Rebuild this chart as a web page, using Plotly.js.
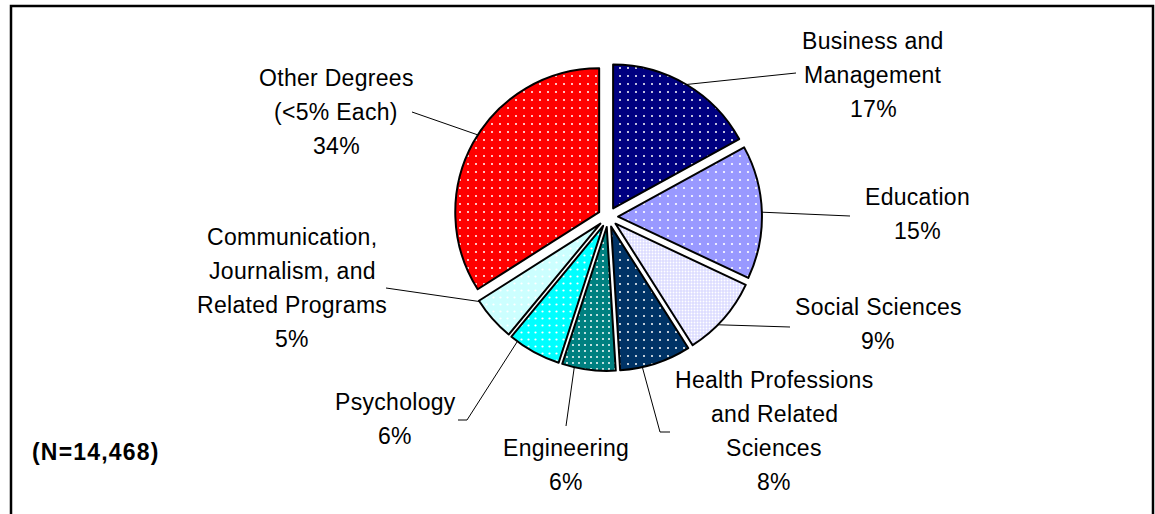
<!DOCTYPE html>
<html><head><meta charset="utf-8">
<script src="https://cdn.plot.ly/plotly-3.0.1.min.js"></script>
<style>
html,body{margin:0;padding:0;background:#fff;}
#chart{width:1155px;height:514px;}
.annotation-text{letter-spacing:0.3px;}
</style></head><body><div id="chart"></div>
<script>
// ---------------- data ----------------
const categories = ["Business and Management","Education","Social Sciences","Health Professions and Related Sciences","Engineering","Psychology","Communication, Journalism, and Related Programs","Other Degrees (<5% Each)"];
const labelLines = [["Business and","Management"],["Education"],["Social Sciences"],["Health Professions","and Related","Sciences"],["Engineering"],["Psychology"],["Communication,","Journalism, and","Related Programs"],["Other Degrees","(<5% Each)"]];
const percents = [17,15,9,8,6,6,5,34];
const sampleNote = "(N=14,468)";

// ---------------- styles ----------------
const sliceColors = ["#000080","#9999FF","#DCDCFF","#003366","#008080","#00FFFF","#CCFFFF","#FF0000"];
const dotColors   = ["#FFFFFF","#FFFFFF","#FFFFFF","#FFFFFF","#FFFFFF","#FFFFFF","#FFFFFF","#FFFFFF"];
const dotTile     = [8,8,3,8,6,7,7,8];
const dotSolidity = [0.05,0.06,0.3,0.05,0.09,0.08,0.08,0.05];
const pullFrac = 0.07;

// ---------------- layout positions (pixels) ----------------
const W = 1155, H = 514;
const domX = [0.3931, 0.6597], domY = [0.2782, 0.8774];
const labelPos = [[873,41],[917,197],[878,307],[774,380],[566,448],[395,402],[292,237],[336,78]];
const lineStep = 34;
const leaderFrac = [0.5,0.5,0.6,0.69,0.77,0.86,0.98,0.53];
const leaderPts = [[[796,73]],[[850,216]],[[790,327]],[[660,432],[670,432]],[[566,426]],[[467,420],[458,420]],[[386,288]],[[412,112]]];

// geometry mirroring plotly pie
const boxW = W*(domX[1]-domX[0]), boxH = H*(domY[1]-domY[0]);
const R = Math.min(boxW, boxH)/(2*(1+pullFrac));
const cx = W*(domX[0]+domX[1])/2, cy = H*(1-domY[0]) - boxH/2;
const total = percents.reduce((a,b)=>a+b,0);
const px = x => x/W, py = y => 1 - y/H;

const shapes = [];
const annotations = [];
let cum = 0;
percents.forEach((v,i)=>{
  const a0 = cum/total*2*Math.PI, a1 = (cum+v)/total*2*Math.PI;
  cum += v;
  const bis = (a0+a1)/2;
  const offX = pullFrac*R*Math.sin(bis), offY = -pullFrac*R*Math.cos(bis);
  const th = a0 + leaderFrac[i]*(a1-a0);
  const sx = cx + R*Math.sin(th) + offX, sy = cy - R*Math.cos(th) + offY;
  let path = `M ${px(sx)} ${py(sy)}`;
  leaderPts[i].forEach(p=>{ path += ` L ${px(p[0])} ${py(p[1])}`; });
  shapes.push({type:'path', xref:'paper', yref:'paper', path, line:{color:'#000', width:1}});
  const lines = labelLines[i].concat([v+'%']);
  lines.forEach((t,k)=>{
    annotations.push({xref:'paper', yref:'paper', x:px(labelPos[i][0]), y:py(labelPos[i][1]+k*lineStep),
      text:t, showarrow:false, xanchor:'center', yanchor:'middle', font:{size:23, color:'#000'}});
  });
});
annotations.push({xref:'paper', yref:'paper', x:px(30), y:py(452), text:'<b><span style="letter-spacing:1.2px">'+sampleNote+'</span></b>',
  showarrow:false, xanchor:'left', yanchor:'middle', font:{size:23, color:'#000'}});
shapes.push({type:'rect', xref:'paper', yref:'paper', x0:px(11), x1:px(1153), y0:-0.05, y1:py(6), line:{color:'#000', width:2.5}, fillcolor:'rgba(0,0,0,0)'});

const trace = {
  type:'pie', values:percents, labels:categories, sort:false, direction:'clockwise', rotation:0,
  pull: percents.map(()=>pullFrac), textinfo:'none', hoverinfo:'none', showlegend:false,
  domain:{x:domX, y:domY},
  marker:{colors:sliceColors, line:{color:'#000', width:2},
    pattern:{shape:'.', fillmode:'replace', bgcolor:sliceColors, fgcolor:dotColors, size:dotTile, solidity:dotSolidity}}
};
Plotly.newPlot('chart',[trace],{
  width:W, height:H, margin:{l:0,r:0,t:0,b:0}, paper_bgcolor:'#fff', showlegend:false,
  font:{family:'"Liberation Sans", Arial, sans-serif', size:23, color:'#000'},
  shapes, annotations
},{displayModeBar:false, staticPlot:true});
</script></body></html>
